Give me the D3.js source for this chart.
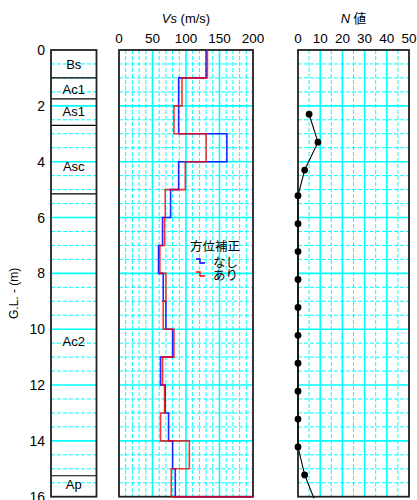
<!DOCTYPE html>
<html>
<head>
<meta charset="utf-8">
<script src="https://cdn.jsdelivr.net/npm/d3@7"></script>
<style>
  body { margin: 0; background: #fff; }
  svg { display: block; font-family: "Liberation Sans", Arial, sans-serif; }
  .jp { font-family: "Noto Sans CJK JP", sans-serif; }
</style>
</head>
<body>
<div id="chart"></div>
<script>
// geology column
const layerNames = ["Bs", "Ac1", "As1", "Asc", "Ac2", "Ap"];
const layerTops = [0, 1.0, 1.75, 2.7, 5.15, 15.25];
const layerBottoms = [1.0, 1.75, 2.7, 5.15, 15.25, 16];
const layerLabelDepths = [0.5, 1.4, 2.2, 4.15, 10.45, 15.55];

// Vs profile, one value per 1 m layer
const vsTops = [0, 1, 2, 3, 4, 5, 6, 7, 8, 9, 10, 11, 12, 13, 14, 15];
const vsNashi = [130, 89, 89, 161, 89, 77, 65, 59, 66, 70, 80, 62, 69, 74, 80, 84];
const vsAri = [132, 94, 82, 130, 99, 69, 68, 61, 70, 66, 82, 65, 68, 62, 105, 78];
const vsBelow = 260; // layer below 16 m, off the chart

// N values
const nDepths = [2.3, 3.3, 4.3, 5.22, 6.22, 7.22, 8.22, 9.22, 10.22, 11.22, 12.22, 13.22, 14.22, 15.22, 16.22];
const nValues = [5, 9, 3, 0, 0, 0, 0, 0, 0, 0, 0, 0, 0, 3, 8];

const depthTicks = [0, 2, 4, 6, 8, 10, 12, 14, 16];
const vsTicks = [0, 50, 100, 150, 200];
const nTicks = [0, 10, 20, 30, 40, 50];

//size
const width = 417, height = 500;
const plotTop = 50, plotBottom = 496.7;

const y = d3.scaleLinear().domain([0, 16]).range([plotTop, plotBottom]);
const xGeo = [51, 96.5];
const xVs = d3.scaleLinear().domain([0, 200]).range([119, 253]);
const xN = d3.scaleLinear().domain([0, 50]).range([298, 409]);

const svg = d3.select("#chart").append("svg")
  .attr("width", width).attr("height", height);

const defs = svg.append("defs");

const gridColor = "#00ffff";
const frameColor = "#222";

// horizontal grid for a column
function hGrid(g, x0, x1) {
  const minor = d3.range(0.5, 16, 0.5).filter(d => d % 2 !== 0);
  const major = d3.range(2, 16, 2);
  g.selectAll("line.hminor").data(minor).join("line")
    .attr("class", "hminor")
    .attr("x1", x0).attr("x2", x1)
    .attr("y1", d => y(d)).attr("y2", d => y(d))
    .attr("stroke", gridColor).attr("stroke-width", 1)
    .attr("stroke-dasharray", "4,2");
  g.selectAll("line.hmajor").data(major).join("line")
    .attr("class", "hmajor")
    .attr("x1", x0).attr("x2", x1)
    .attr("y1", d => y(d)).attr("y2", d => y(d))
    .attr("stroke", gridColor).attr("stroke-width", 1.6);
}

function vGrid(g, scale, minor, major) {
  g.selectAll("line.vminor").data(minor).join("line")
    .attr("class", "vminor")
    .attr("x1", d => scale(d)).attr("x2", d => scale(d))
    .attr("y1", plotTop).attr("y2", plotBottom)
    .attr("stroke", gridColor).attr("stroke-width", 1)
    .attr("stroke-dasharray", "4,2");
  g.selectAll("line.vmajor").data(major).join("line")
    .attr("class", "vmajor")
    .attr("x1", d => scale(d)).attr("x2", d => scale(d))
    .attr("y1", plotTop).attr("y2", plotBottom)
    .attr("stroke", gridColor).attr("stroke-width", 1.6);
}

function frame(g, x0, x1) {
  g.append("rect")
    .attr("x", x0).attr("y", plotTop)
    .attr("width", x1 - x0).attr("height", plotBottom - plotTop)
    .attr("fill", "none").attr("stroke", frameColor).attr("stroke-width", 1.8);
}

function clip(id, x0, x1) {
  defs.append("clipPath").attr("id", id)
    .append("rect")
    .attr("x", x0).attr("y", plotTop - 1)
    .attr("width", x1 - x0).attr("height", plotBottom - plotTop + 2.5);
}

//depth axis
const yAxis = svg.append("g");
yAxis.selectAll("text").data(depthTicks).join("text")
  .attr("x", 45).attr("y", d => y(d))
  .attr("dy", "0.36em")
  .attr("text-anchor", "end")
  .attr("font-size", 14)
  .text(d => d);

svg.append("text")
  .attr("transform", `translate(18,${(plotTop + plotBottom) / 2 + 20}) rotate(-90)`)
  .attr("text-anchor", "middle")
  .attr("font-size", 12)
  .text("G.L. - (m)");

//geology column
const geo = svg.append("g");
hGrid(geo, xGeo[0], xGeo[1]);
geo.selectAll("line.boundary").data(layerTops.slice(1)).join("line")
  .attr("class", "boundary")
  .attr("x1", xGeo[0]).attr("x2", xGeo[1])
  .attr("y1", d => y(d)).attr("y2", d => y(d))
  .attr("stroke", "#000").attr("stroke-width", 1.2);
geo.selectAll("text").data(layerNames).join("text")
  .attr("x", (xGeo[0] + xGeo[1]) / 2)
  .attr("y", (d, i) => y(layerLabelDepths[i]))
  .attr("dy", "0.36em")
  .attr("text-anchor", "middle")
  .attr("font-size", 13)
  .text(d => d);
frame(geo, xGeo[0], xGeo[1]);

//Vs panel
const vs = svg.append("g");
hGrid(vs, xVs(0), xVs(200));
vGrid(vs, xVs, d3.range(10, 200, 10).filter(d => d % 50 !== 0), [50, 100, 150]);
frame(vs, xVs(0), xVs(200));

vs.selectAll("text.tick").data(vsTicks).join("text")
  .attr("class", "tick")
  .attr("x", d => xVs(d)).attr("y", 43)
  .attr("text-anchor", "middle")
  .attr("font-size", 13.5)
  .text(d => d);

const vsTitle = vs.append("text")
  .attr("x", (xVs(0) + xVs(200)) / 2).attr("y", 23)
  .attr("text-anchor", "middle")
  .attr("font-size", 13);
vsTitle.append("tspan").attr("font-style", "italic").text("Vs");
vsTitle.append("tspan").text(" (m/s)");

clip("clipVs", xVs(0), xVs(200));

function profilePoints(values) {
  const pts = [];
  values.forEach((v, i) => {
    const d0 = vsTops[i];
    const d1 = i + 1 < vsTops.length ? vsTops[i + 1] : 16;
    pts.push([v, d0], [v, d1]);
  });
  pts.push([vsBelow, 16]);
  return pts;
}

const profileLine = d3.line()
  .x(d => xVs(d[0]))
  .y(d => y(d[1]));

const profiles = vs.append("g").attr("clip-path", "url(#clipVs)");
profiles.append("path")
  .attr("d", profileLine(profilePoints(vsNashi)))
  .attr("fill", "none").attr("stroke", "#0000ff")
  .attr("stroke-width", 1.6).attr("stroke-opacity", 0.85);
profiles.append("path")
  .attr("d", profileLine(profilePoints(vsAri)))
  .attr("fill", "none").attr("stroke", "#ff0000")
  .attr("stroke-width", 1.6).attr("stroke-opacity", 0.8);

//legend
const legend = vs.append("g").attr("class", "jp").attr("font-size", 12.5);
legend.append("text")
  .attr("x", 240).attr("y", 251)
  .attr("text-anchor", "end")
  .text("方位補正");
const legendItems = [
  { label: "なし", color: "#0000ff" },
  { label: "あり", color: "#ff0000" }
];
legendItems.forEach((d, i) => {
  const ly = 263 + i * 13;
  legend.append("text")
    .attr("x", 238).attr("y", ly + 4)
    .attr("text-anchor", "end")
    .text(d.label);
  legend.append("path")
    .attr("d", `M196,${ly - 4} h4 v4 h5`)
    .attr("fill", "none").attr("stroke", d.color).attr("stroke-width", 1.3);
});

//N panel
const np = svg.append("g");
hGrid(np, xN(0), xN(50));
vGrid(np, xN, [5, 15, 25, 35, 45], [10, 20, 30, 40]);
frame(np, xN(0), xN(50));

np.selectAll("text.tick").data(nTicks).join("text")
  .attr("class", "tick")
  .attr("x", d => xN(d)).attr("y", 43)
  .attr("text-anchor", "middle")
  .attr("font-size", 13.5)
  .text(d => d);

const nTitle = np.append("text")
  .attr("x", (xN(0) + xN(50)) / 2).attr("y", 23)
  .attr("text-anchor", "middle")
  .attr("font-size", 13);
nTitle.append("tspan").attr("font-style", "italic").text("N");
nTitle.append("tspan").attr("class", "jp").text(" 値");

clip("clipN", xN(0) - 5, xN(50));

const nData = nDepths.map((d, i) => ({ depth: d, n: nValues[i] }));
const nG = np.append("g").attr("clip-path", "url(#clipN)");
nG.append("path")
  .attr("d", d3.line().x(d => xN(d.n)).y(d => y(d.depth))(nData))
  .attr("fill", "none").attr("stroke", "#000").attr("stroke-width", 1.1);
nG.selectAll("circle").data(nData).join("circle")
  .attr("cx", d => xN(d.n)).attr("cy", d => y(d.depth))
  .attr("r", 3.4)
  .attr("fill", "#000");
</script>
</body>
</html>
